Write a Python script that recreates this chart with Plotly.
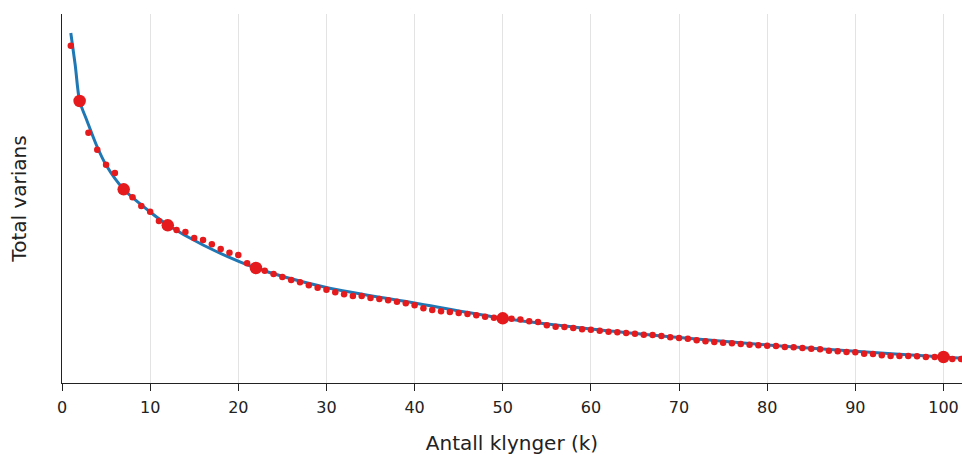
import plotly.graph_objects as go

k_values = list(range(1, 103))
variance = [337.3, 282, 250.3, 233.3, 218.3, 210, 193.7, 185.7, 177, 171.3,
            162, 157.7, 153, 151, 145, 143, 138.7, 134, 130.3, 128,
            119.7, 115, 112.2, 109, 106, 103, 100.7, 97.7, 95.3, 93.3,
            90.7, 88.7, 87, 87, 85, 84, 82.7, 81.3, 79.7, 77.7,
            74.7, 73, 71.7, 71, 70, 69, 67.7, 66.3, 65.3, 64.7,
            64.2, 63.5, 61.8, 61, 57.7, 56.3, 56, 55, 53.7, 53.3,
            52.3, 51.3, 50.7, 50, 49.3, 48.3, 48, 47, 45.7, 45,
            44.3, 42.7, 41.7, 41, 40.3, 39.7, 39, 38.2, 37.7, 37.3,
            37, 36, 35.7, 35, 34.3, 33.7, 32.3, 31.7, 31, 30.7,
            29.3, 29, 27.7, 27, 27, 27, 26.7, 26, 26, 26,
            24, 24]

highlight_k = [2, 7, 12, 22, 50, 100]
highlight_y = [variance[k - 1] for k in highlight_k]

fit_k = [1, 1.5, 2, 2.8, 3.9, 5, 7, 10, 12, 16, 22, 30, 40, 50, 60, 70, 80, 90, 100, 102.1]
fit_y = [350, 318, 282, 263, 238, 218, 193.7, 171, 158, 138, 115, 95.5, 80, 64.7, 54, 45.5, 38, 31.7, 26, 24.7]

x_ticks = [0, 10, 20, 30, 40, 50, 60, 70, 80, 90, 100]

RED = "#e41a1c"
BLUE = "#1f77b4"

fig = go.Figure()
fig.add_trace(go.Scatter(x=fit_k, y=fit_y, mode="lines",
                         line=dict(color=BLUE, width=3, shape="spline", smoothing=0.8),
                         hoverinfo="skip", showlegend=False))
fig.add_trace(go.Scatter(x=k_values, y=variance, mode="markers",
                         marker=dict(color=RED, size=6.5), showlegend=False))
fig.add_trace(go.Scatter(x=highlight_k, y=highlight_y, mode="markers",
                         marker=dict(color=RED, size=12.5), showlegend=False))

fig.update_layout(
    width=962, height=455,
    margin=dict(l=62, r=0, t=14, b=72),
    paper_bgcolor="white", plot_bgcolor="white",
    font=dict(family="DejaVu Sans", color="#222"),
    xaxis=dict(range=[0, 102.1], tickvals=x_ticks, ticks="outside", ticklen=7,
               tickcolor="#222", showline=True, linecolor="#222", linewidth=1.3,
               showgrid=True, gridcolor="#e3e3e3", gridwidth=1, zeroline=False,
               tickfont=dict(size=16), ticklabelstandoff=3,
               title=dict(text="Antall klynger (k)", font=dict(size=20), standoff=22)),
    yaxis=dict(range=[0, 369], showticklabels=False, ticks="", showline=True,
               linecolor="#222", linewidth=1.3, showgrid=False, zeroline=False,
               title=dict(text="Total varians", font=dict(size=20), standoff=28)),
)

fig.write_html("out.html")
